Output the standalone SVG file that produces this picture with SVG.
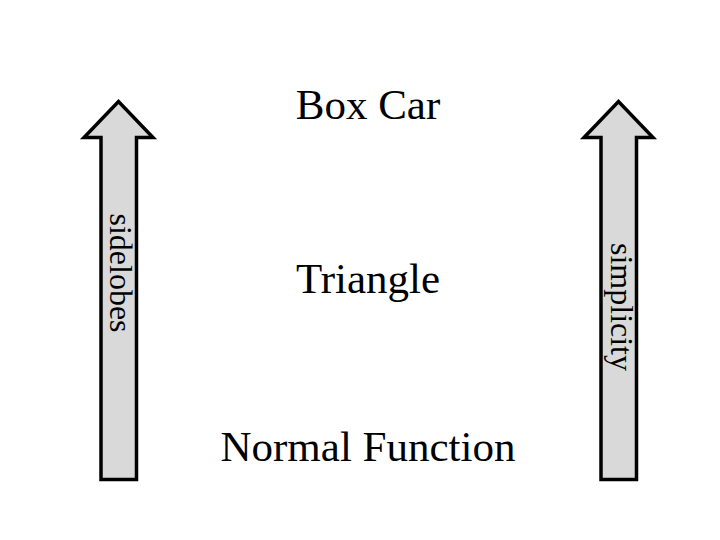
<svg xmlns="http://www.w3.org/2000/svg" width="720" height="540" viewBox="0 0 720 540">
<style>
.arrow{fill:#d9d9d9;stroke:#000;stroke-width:3.5;stroke-linejoin:miter}
.lbl{font-family:"Liberation Serif","Times New Roman",serif;font-size:43px;fill:#000;text-anchor:middle}
.side{font-family:"Liberation Serif","Times New Roman",serif;font-size:32px;fill:#000;text-anchor:middle}
</style>
<rect width="720" height="540" fill="#fff"/>
<g id="connectors">
<g id="arrow-left">
<path class="arrow" d="M101,479.5 L101,137.5 L84,137.5 L118.5,101.5 L153,137.5 L136.5,137.5 L136.5,479.5 Z"/>
<text class="side" transform="translate(110,273) rotate(90)">sidelobes</text>
</g>
<g id="arrow-right">
<path class="arrow" d="M601,479.5 L601,137.5 L584,137.5 L618.5,101.5 L653,137.5 L636.5,137.5 L636.5,479.5 Z"/>
<text class="side" transform="translate(611,307) rotate(90)">simplicity</text>
</g>
</g>
<g id="node-boxcar"><text class="lbl" x="368" y="119">Box Car</text></g>
<g id="node-triangle"><text class="lbl" x="368" y="292.5">Triangle</text></g>
<g id="node-normal"><text class="lbl" x="368" y="461">Normal Function</text></g>
</svg>
